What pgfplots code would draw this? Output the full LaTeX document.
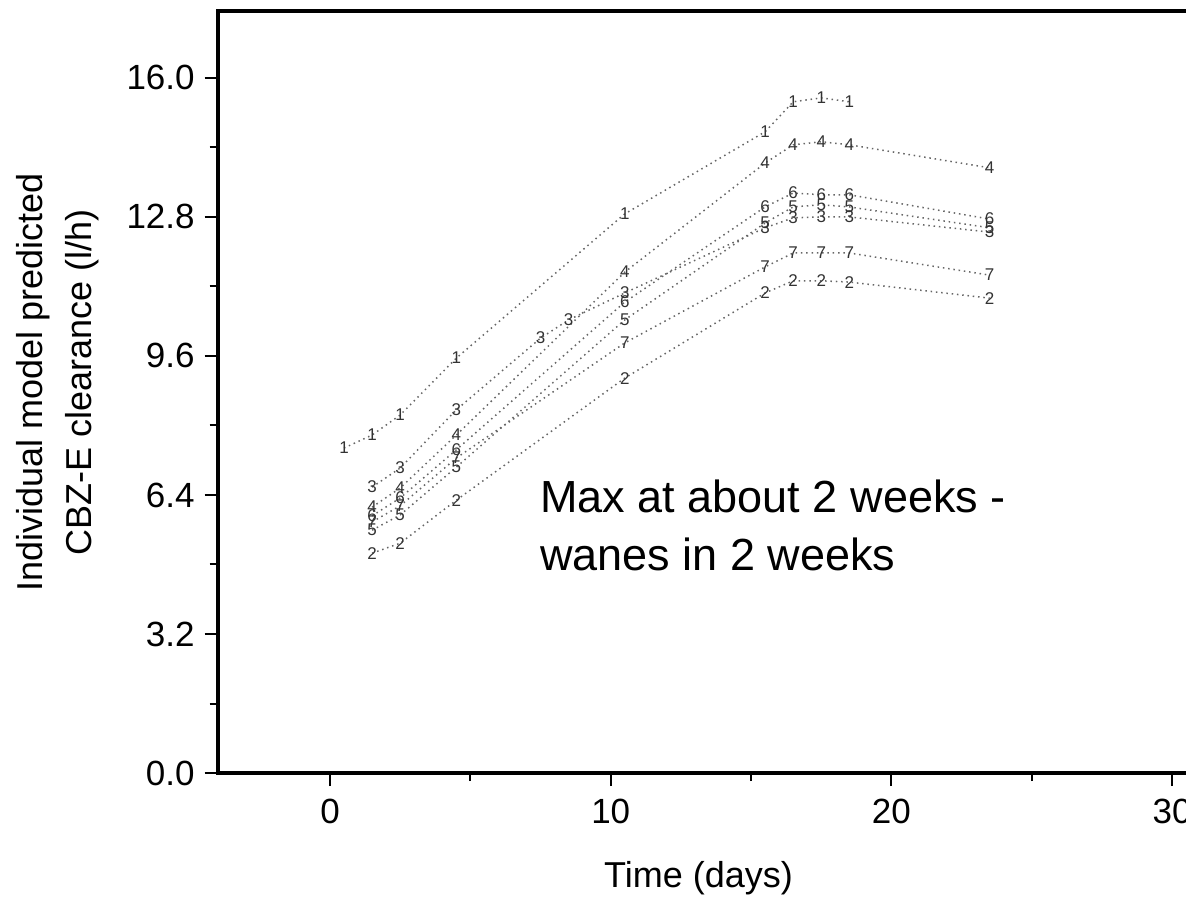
\documentclass[border=0pt]{standalone}
\usepackage{fontspec}
\setmainfont{Liberation Sans}
\usepackage{pgfplots}
\pgfplotsset{compat=1.18}

\pgfplotsset{
  ser/.style={color=black!60, line width=0.75pt, dash pattern=on 0.75pt off 1.9pt,
    mark=text, text mark={#1}, text mark as node=true,
    mark options={solid},
    text mark style={font=\fontsize{8.5}{8.5}\selectfont, text=black!80, inner sep=0pt}},
}

\begin{document}
\begin{tikzpicture}
\path[use as bounding box] (0,0) rectangle (593pt,450.5pt);
\clip (0,0) rectangle (593pt,450.5pt);
\begin{axis}[
  at={(108.85pt,64pt)}, anchor=south west,
  scale only axis, width=505.3pt, height=381pt,
  xmin=-4, xmax=32, ymin=0, ymax=17.54,
  axis line style={line width=2pt},
  tick style={line width=1pt, black},
  tick align=outside, tick pos=left,
  major tick length=6.5pt, minor tick length=4pt,
  xtick={0,10,20,30}, minor xtick={5,15,25},
  ytick={0,3.2,6.4,9.6,12.8,16}, minor ytick={1.6,4.8,8,11.2,14.4},
  /pgf/number format/assume math mode=true,
  ticklabel style={font=\fontsize{17.5}{17.5}\selectfont},
  yticklabel style={xshift=-1.5pt, /pgf/number format/.cd, fixed, fixed zerofill, precision=1},
  xticklabel style={yshift=-3pt, /pgf/number format/.cd, fixed, precision=0},
  xlabel={Time (days)},
  xlabel style={font=\fontsize{18}{18}\selectfont, at={(axis description cs:0.3754,0)}, anchor=base west, yshift=-57pt},
  ylabel={Individual model predicted\\CBZ-E clearance (l/h)},
  ylabel style={font=\fontsize{18}{24.5}\selectfont, align=center, at={(axis description cs:-0.158,0.512)}, anchor=center, rotate=0},
  clip=false,
]
\addplot[ser=1] coordinates {(0.5,7.48) (1.5,7.78) (2.5,8.24) (4.5,9.55) (10.5,12.87) (15.5,14.76) (16.5,15.45) (17.5,15.54) (18.5,15.45)};
\addplot[ser=2] coordinates {(1.5,5.06) (2.5,5.29) (4.5,6.28) (10.5,9.09) (15.5,11.05) (16.5,11.33) (17.5,11.33) (18.5,11.30) (23.5,10.93)};
\addplot[ser=3] coordinates {(1.5,6.58) (2.5,7.02) (4.5,8.36) (7.5,10.01) (8.5,10.43) (10.5,11.05) (15.5,12.55) (16.5,12.78) (17.5,12.80) (18.5,12.80) (23.5,12.45)};
\addplot[ser=4] coordinates {(1.5,6.12) (2.5,6.56) (4.5,7.78) (10.5,11.53) (15.5,14.04) (16.5,14.46) (17.5,14.53) (18.5,14.46) (23.5,13.93)};
\addplot[ser=5] coordinates {(1.5,5.59) (2.5,5.94) (4.5,7.04) (10.5,10.43) (15.5,12.66) (16.5,13.03) (17.5,13.08) (18.5,13.03) (23.5,12.55)};
\addplot[ser=6] coordinates {(1.5,5.92) (2.5,6.33) (4.5,7.44) (10.5,10.84) (15.5,13.03) (16.5,13.35) (17.5,13.31) (18.5,13.31) (23.5,12.75)};
\addplot[ser=7] coordinates {(1.5,5.78) (2.5,6.15) (4.5,7.25) (10.5,9.90) (15.5,11.65) (16.5,11.97) (17.5,11.97) (18.5,11.97) (23.5,11.46)};
\node[anchor=base west, inner sep=0pt, font=\fontsize{22.5}{22.5}\selectfont] at (axis cs:7.48,5.99) {Max at about 2 weeks -};
\node[anchor=base west, inner sep=0pt, font=\fontsize{22.5}{22.5}\selectfont] at (axis cs:7.48,4.67) {wanes in 2 weeks};
\end{axis}
\end{tikzpicture}
\end{document}
